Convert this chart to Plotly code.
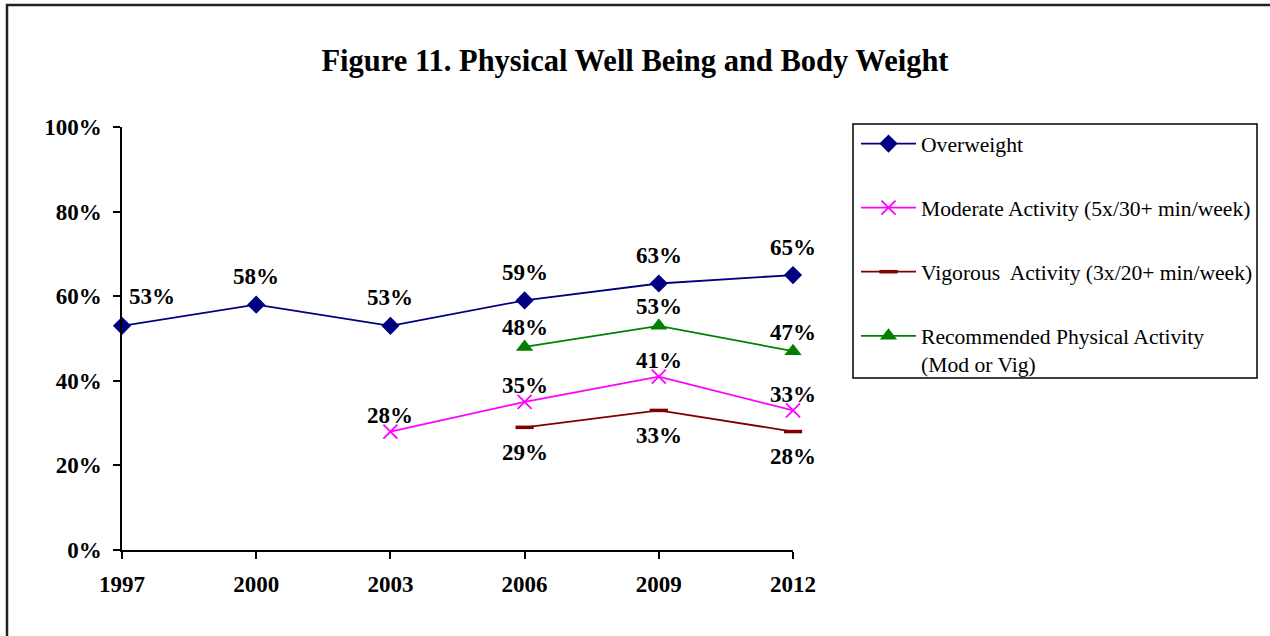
import plotly.graph_objects as go

years = [1997, 2000, 2003, 2006, 2009, 2012]
overweight = [53, 58, 53, 59, 63, 65]
moderate = [None, None, 28, 35, 41, 33]
vigorous = [None, None, None, 29, 33, 28]
recommended = [None, None, None, 48, 53, 47]

names = ["Overweight",
         "Moderate Activity (5x/30+ min/week)",
         "Vigorous  Activity (3x/20+ min/week)",
         "Recommended Physical Activity<br>(Mod or Vig)"]

SERIF = "Liberation Serif, Times New Roman, serif"

styles = [
    dict(color="#000080", symbol="diamond", size=14, lw=0, label_dy=28),
    dict(color="#FF00FF", symbol="x-thin", size=14, lw=1.8, label_dy=16),
    dict(color="#800000", symbol="line-ew", size=13, lw=3.5, label_dy=-25),
    dict(color="#008000", symbol="triangle-up", size=15, lw=0, label_dy=19),
]

series = [overweight, moderate, vigorous, recommended]

fig = go.Figure()
annotations = []
for i, (vals, nm, st) in enumerate(zip(series, names, styles)):
    xs = [x for x, v in zip(years, vals) if v is not None]
    ys = [v / 100 for v in vals if v is not None]
    marker = dict(symbol=st["symbol"], size=st["size"], color=st["color"])
    if st["lw"]:
        marker["line"] = dict(color=st["color"], width=st["lw"])
    fig.add_trace(go.Scatter(
        x=xs, y=ys, name=nm, mode="lines+markers",
        line=dict(color=st["color"], width=1.8),
        marker=marker, cliponaxis=False, legendgroup=str(i),
    ))
    for x, y in zip(xs, ys):
        xshift = 30 if x == years[0] else 0
        yshift = st["label_dy"] if x != years[0] else 29
        annotations.append(dict(
            x=x, y=y, text=f"{round(y*100)}%", showarrow=False,
            xshift=xshift, yshift=yshift, xref="x", yref="y",
            font=dict(family=SERIF, size=23, color="black", weight="bold"),
        ))

L, R, T, B = 122, 477, 127, 86
PW, PH = 1270 - L - R, 636 - T - B

def px(x):
    return (x - L) / PW

def py(y):
    return (636 - B - y) / PH

shapes = [
    # legend box
    dict(type="rect", xref="paper", yref="paper",
         x0=px(853), x1=px(1257), y0=py(378), y1=py(124),
         line=dict(color="black", width=1.5), fillcolor="rgba(0,0,0,0)"),
    # outer chart border
    dict(type="rect", xref="paper", yref="paper",
         x0=px(7), x1=px(1300), y0=py(680), y1=py(5),
         line=dict(color="#222222", width=2.5), fillcolor="rgba(0,0,0,0)"),
]

fig.update_layout(
    width=1270, height=636,
    margin=dict(l=L, r=R, t=T, b=B, autoexpand=False),
    paper_bgcolor="white", plot_bgcolor="white",
    title=dict(text="<b>Figure 11. Physical Well Being and Body Weight</b>",
               x=0.5, xref="container", xanchor="center",
               y=1 - 60 / 636, yref="container", yanchor="middle",
               font=dict(family=SERIF, size=30.5, color="black")),
    xaxis=dict(range=[years[0], years[-1]], tickvals=years,
               ticktext=[str(y) for y in years], automargin=False,
               showgrid=False, zeroline=False, showline=True,
               linecolor="black", linewidth=1.5,
               ticks="outside", ticklen=7, tickcolor="black", tickwidth=1.5,
               ticklabelstandoff=6,
               tickfont=dict(family=SERIF, size=23, color="black", weight="bold")),
    yaxis=dict(range=[0, 1], tickvals=[0, 0.2, 0.4, 0.6, 0.8, 1.0],
               tickformat=".0%", showgrid=False, zeroline=False, automargin=False,
               showline=True, linecolor="black", linewidth=1.5,
               ticks="outside", ticklen=7, tickcolor="black", tickwidth=1.5,
               ticklabelstandoff=7,
               tickfont=dict(family=SERIF, size=23, color="black", weight="bold")),
    legend=dict(x=px(856), y=py(123), xanchor="left", yanchor="top",
                bgcolor="rgba(0,0,0,0)", borderwidth=0,
                tracegroupgap=33, valign="top", itemwidth=55,
                font=dict(family=SERIF, size=21.6, color="black")),
    showlegend=True,
    annotations=annotations,
    shapes=shapes,
)

fig.write_html("out.html", config={"displayModeBar": False},
               post_script="document.body.style.margin='0';document.body.style.overflow='hidden';")
